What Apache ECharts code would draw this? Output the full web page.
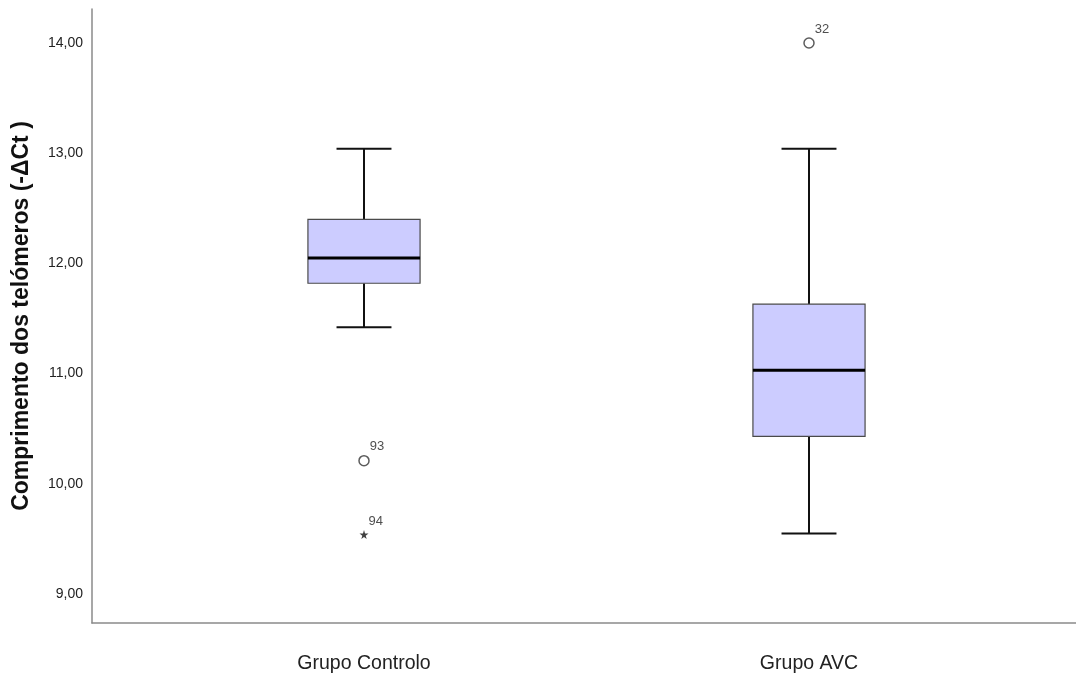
<!DOCTYPE html>
<html>
<head>
<meta charset="utf-8">
<script src="https://cdn.jsdelivr.net/npm/echarts@6/dist/echarts.min.js"></script>
<style>
  html, body { margin: 0; padding: 0; background: #fff; }
  #chart { width: 1076px; height: 677px; }
</style>
</head>
<body>
<div id="chart"></div>
<script>
// Groups on the horizontal axis
const categories = ['Grupo Controlo', 'Grupo AVC'];

// Five-number summaries per group: [lower whisker, Q1, median, Q3, upper whisker]
const boxControlo = [11.42, 11.82, 12.05, 12.40, 13.04];
const boxAVC = [9.55, 10.43, 11.03, 11.63, 13.04];

// Outliers (circles) and extreme values (stars): [group index, value, case id]
const outliers = [[0, 10.21, '93'], [1, 14.00, '32']];
const extremes = [[0, 9.54, '94']];

// Y-axis tick values
const yTicks = [9, 10, 11, 12, 13, 14];

const Y_MIN = 8.737, Y_MAX = 14.309;
const fmt = v => v.toFixed(2).replace('.', ',');
const starPath = 'path://M50,0 L61,35 L98,35 L68,57 L79,91 L50,70 L21,91 L32,57 L2,35 L39,35 Z';

const boxes = [boxControlo, boxAVC].map((b, i) => [i].concat(b));

const chart = echarts.init(document.getElementById('chart'), null, { renderer: 'canvas' });

chart.setOption({
  animation: false,
  backgroundColor: '#ffffff',
  grid: [
    // frame grid: carries the visible axis lines, labels and title
    { left: 92, right: 0, top: 9, bottom: 54 },
    // data grid: category bands for the two groups
    { left: 141.5, right: 44.5, top: 9, bottom: 54 }
  ],
  xAxis: [
    {
      gridIndex: 0, type: 'value', min: 0, max: 1,
      axisLine: { show: true, lineStyle: { color: '#8a8a8a', width: 1.5 } },
      axisTick: { show: false }, axisLabel: { show: false }, splitLine: { show: false }
    },
    {
      gridIndex: 1, type: 'category', data: categories, boundaryGap: true,
      axisLine: { show: false }, axisTick: { show: false }, splitLine: { show: false },
      axisLabel: {
        margin: 31, fontSize: 19.5, color: '#222',
        fontFamily: 'Liberation Sans, Arial, sans-serif'
      }
    }
  ],
  yAxis: [
    {
      gridIndex: 0, type: 'value', min: Y_MIN, max: Y_MAX,
      name: 'Comprimento dos telómeros (-\u0394Ct )',
      nameLocation: 'middle', nameRotate: 90, nameGap: 59,
      nameTextStyle: {
        fontSize: 23, fontWeight: 'bold', color: '#111',
        fontFamily: 'Liberation Sans, Arial, sans-serif'
      },
      axisLine: { show: true, lineStyle: { color: '#8a8a8a', width: 1.5 } },
      axisTick: { show: false },
      splitLine: { show: false },
      axisLabel: {
        customValues: yTicks,
        formatter: v => fmt(v),
        margin: 9, fontSize: 14, color: '#222',
        fontFamily: 'Liberation Sans, Arial, sans-serif'
      }
    },
    {
      gridIndex: 1, type: 'value', min: Y_MIN, max: Y_MAX, show: false
    }
  ],
  series: [
    {
      type: 'custom',
      xAxisIndex: 1, yAxisIndex: 1,
      data: boxes,
      encode: { x: 0, y: [1, 2, 3, 4, 5] },
      renderItem: function (params, api) {
        const c = api.value(0);
        const pLo = api.coord([c, api.value(1)]);
        const pQ1 = api.coord([c, api.value(2)]);
        const pMed = api.coord([c, api.value(3)]);
        const pQ3 = api.coord([c, api.value(4)]);
        const pHi = api.coord([c, api.value(5)]);
        const band = api.size([1, 0])[0];
        const boxW = band * 0.252;
        const capW = boxW * 0.49;
        const x = pMed[0];
        const whisk = { stroke: '#111', lineWidth: 2 };
        return {
          type: 'group',
          children: [
            { type: 'line', shape: { x1: x, y1: pHi[1], x2: x, y2: pQ3[1] }, style: whisk },
            { type: 'line', shape: { x1: x, y1: pQ1[1], x2: x, y2: pLo[1] }, style: whisk },
            { type: 'line', shape: { x1: x - capW / 2, y1: pHi[1], x2: x + capW / 2, y2: pHi[1] }, style: whisk },
            { type: 'line', shape: { x1: x - capW / 2, y1: pLo[1], x2: x + capW / 2, y2: pLo[1] }, style: whisk },
            {
              type: 'rect',
              shape: { x: x - boxW / 2, y: pQ3[1], width: boxW, height: pQ1[1] - pQ3[1] },
              style: { fill: '#ccccff', stroke: '#4a4a4a', lineWidth: 1.2 }
            },
            {
              type: 'line',
              shape: { x1: x - boxW / 2, y1: pMed[1], x2: x + boxW / 2, y2: pMed[1] },
              style: { stroke: '#000', lineWidth: 3 }
            }
          ]
        };
      }
    },
    {
      type: 'scatter',
      xAxisIndex: 1, yAxisIndex: 1,
      data: outliers.map(o => ({ value: [o[0], o[1]], name: o[2] })),
      symbol: 'circle', symbolSize: 10,
      itemStyle: { color: '#fff', borderColor: '#333', borderWidth: 1.5 },
      label: {
        show: true, formatter: p => p.name, position: 'right',
        offset: [-5, -14], fontSize: 13, color: '#222',
        fontFamily: 'Liberation Sans, Arial, sans-serif'
      }
    },
    {
      type: 'scatter',
      xAxisIndex: 1, yAxisIndex: 1,
      data: extremes.map(o => ({ value: [o[0], o[1]], name: o[2] })),
      symbol: starPath, symbolSize: 9,
      itemStyle: { color: '#111' },
      label: {
        show: true, formatter: p => p.name, position: 'right',
        offset: [-5, -13], fontSize: 13, color: '#222',
        fontFamily: 'Liberation Sans, Arial, sans-serif'
      }
    }
  ]
});
</script>
</body>
</html>
